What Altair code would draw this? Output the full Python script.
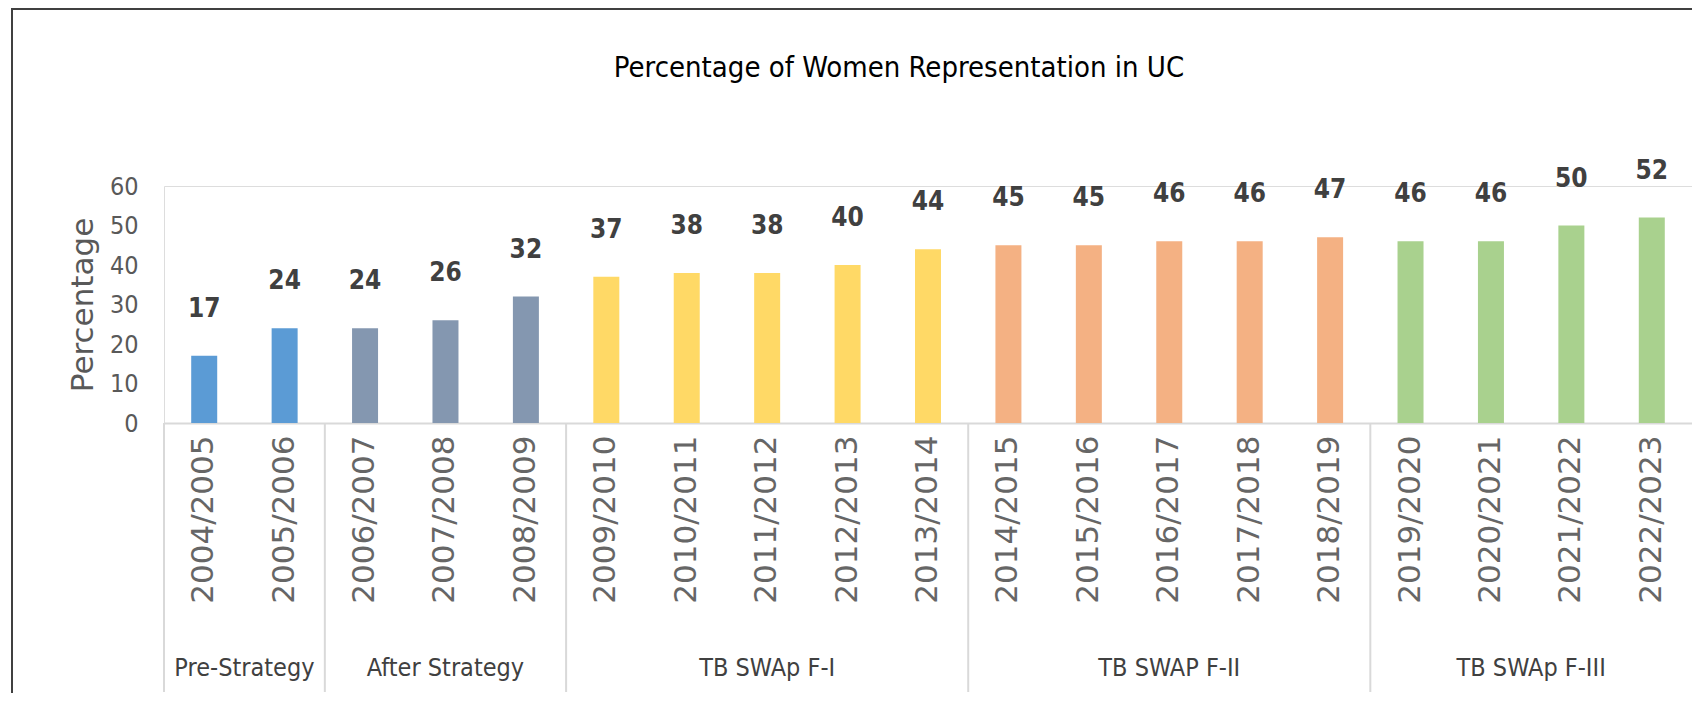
import altair as alt
import pandas as pd

years = ["2004/2005", "2005/2006", "2006/2007", "2007/2008", "2008/2009",
         "2009/2010", "2010/2011", "2011/2012", "2012/2013", "2013/2014",
         "2014/2015", "2015/2016", "2016/2017", "2017/2018", "2018/2019",
         "2019/2020", "2020/2021", "2021/2022", "2022/2023"]
values = [17, 24, 24, 26, 32, 37, 38, 38, 40, 44, 45, 45, 46, 46, 47, 46, 46, 50, 52]
phase_names = ["Pre-Strategy", "After Strategy", "TB SWAp F-I", "TB SWAP F-II", "TB SWAp F-III"]
phase_sizes = [2, 3, 5, 5, 4]
phase_colors = ["#5B9BD5", "#8497B0", "#FFD966", "#F4B183", "#A9D18E"]
y_ticks = [0, 10, 20, 30, 40, 50, 60]

NARROW = "DejaVu Sans Condensed, sans-serif"
WIDE = "DejaVu Sans, sans-serif"

phases = [name for name, n in zip(phase_names, phase_sizes) for _ in range(n)]
df = pd.DataFrame({"year": years, "value": values, "phase": phases})

# first year of each phase (for separators) and anchor year for the phase label
sep_rows, lab_odd, lab_even = [], [], []
i = 0
for name, n in zip(phase_names, phase_sizes):
    sep_rows.append({"year": years[i]})
    if n % 2:
        lab_odd.append({"year": years[i + n // 2], "phase": name})
    else:
        lab_even.append({"year": years[i + n // 2], "phase": name})
    i += n
sep_df = pd.DataFrame(sep_rows)
odd_df = pd.DataFrame(lab_odd)
even_df = pd.DataFrame(lab_even)
frame_df = pd.DataFrame({"k": [0]})

W, H = 1528, 237
xscale = alt.Scale(domain=years, paddingInner=0, paddingOuter=0)
yscale = alt.Scale(domain=[0, 60], nice=False)

x_axis = alt.Axis(title=None, labelAngle=-90, labelFont=WIDE, labelFontSize=31,
                  labelColor="#666666", labelPadding=12, labelLimit=400,
                  labelOverlap=False, ticks=False, domainColor="#D9D9D9",
                  domainWidth=2, labelAlign="right", labelBaseline="middle")
y_axis = alt.Axis(title="Percentage", values=y_ticks, tickCount=7, grid=False, domain=False,
                  ticks=False, labelFont=NARROW, labelFontSize=25,
                  labelOverlap=False, labelColor="#595959", labelPadding=26,
                  titleFont=WIDE, titleFontSize=31, titleFontWeight="normal",
                  titleColor="#595959", titlePadding=10)

bars = alt.Chart(df).mark_bar(size=26).encode(
    x=alt.X("year:N", scale=xscale, axis=x_axis),
    y=alt.Y("value:Q", scale=yscale, axis=y_axis),
    color=alt.Color("phase:N", scale=alt.Scale(domain=phase_names, range=phase_colors),
                    legend=None),
)

value_labels = alt.Chart(df).mark_text(
    dy=-47, font=NARROW, fontSize=26, fontWeight="bold", color="#404040", baseline="middle"
).encode(
    x=alt.X("year:N", scale=xscale, axis=x_axis),
    y=alt.Y("value:Q", scale=yscale, axis=y_axis),
    text="value:Q",
)

seps = alt.Chart(sep_df).mark_rule(color="#D9D9D9", strokeWidth=2).encode(
    x=alt.X("year:N", scale=xscale, bandPosition=0, axis=x_axis),
    y=alt.value(H),
    y2=alt.value(506),
)

grp_odd = alt.Chart(odd_df).mark_text(
    font=NARROW, fontSize=25, color="#404040", baseline="middle"
).encode(
    x=alt.X("year:N", scale=xscale, bandPosition=0.5, axis=x_axis),
    y=alt.value(482),
    text="phase:N",
)
grp_even = alt.Chart(even_df).mark_text(
    font=NARROW, fontSize=25, color="#404040", baseline="middle"
).encode(
    x=alt.X("year:N", scale=xscale, bandPosition=0, axis=x_axis),
    y=alt.value(482),
    text="phase:N",
)

frame_left = alt.Chart(frame_df).mark_rule(color="#404040", strokeWidth=2).encode(
    x=alt.value(-152), y=alt.value(-178), y2=alt.value(520)
)
frame_top = alt.Chart(frame_df).mark_rule(color="#404040", strokeWidth=2).encode(
    x=alt.value(-152), x2=alt.value(W + 20), y=alt.value(-177)
)

chart = alt.layer(
    bars, value_labels, seps, grp_odd, grp_even, frame_left, frame_top
).properties(
    width=W,
    height=H,
    title=alt.TitleParams(
        "Percentage of Women Representation in UC",
        font=NARROW, fontSize=29, fontWeight="normal", color="#000000",
        anchor="middle", frame="group", offset=0, dy=76, dx=-29,
    ),
    padding={"left": 156, "top": 178, "right": 0, "bottom": 270},
    autosize=alt.AutoSizeParams(type="none"),
).configure_view(stroke=None).configure(background="white")

chart.save("out.html", embed_options={"renderer": "svg", "actions": False})
